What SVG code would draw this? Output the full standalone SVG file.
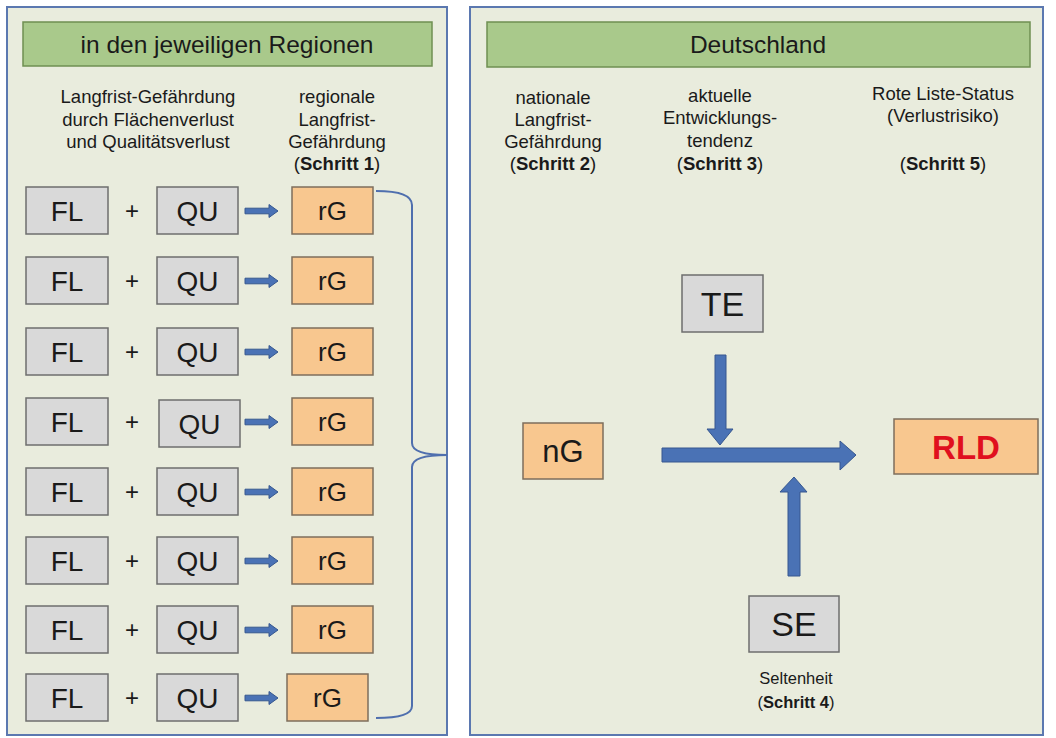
<svg xmlns="http://www.w3.org/2000/svg" width="1056" height="738" viewBox="0 0 1056 738">
<style>
  .panel { fill: #e9ecdd; stroke: #5b78b0; stroke-width: 2; }
  .hdr { fill: #a9c98b; stroke: #6f8f52; stroke-width: 1.5; }
  .gray { fill: #d9d9d9; stroke: #6e6e6e; stroke-width: 1.5; }
  .orange { fill: #f8c78f; stroke: #7e6e5c; stroke-width: 1.5; }
  text { font-family: "Liberation Sans", Arial, sans-serif; fill: #1a1a1a; text-anchor: middle; }
  .h { font-size: 24.5px; }
  .lbl { font-size: 18.5px; }
  .small { font-size: 16.5px; }
  .b { font-weight: bold; }
  .box { font-size: 28px; }
  .arrow { fill: #4a72b5; stroke: #36578f; stroke-width: 1; }
</style>
<defs>
  <g id="smallArrow">
    <path class="arrow" d="M0,-2.8 L24,-2.8 L24,-6.5 L33,0 L24,6.5 L24,2.8 L0,2.8 Z"/>
  </g>
</defs>

<g id="panel-left">
  <rect class="panel" x="7" y="7" width="440" height="728"/>
  <rect class="hdr" x="23" y="22" width="409" height="44"/>
  <text class="h" x="227" y="53">in den jeweiligen Regionen</text>
  <text class="lbl" x="148" y="103">Langfrist-Gefährdung</text>
  <text class="lbl" x="148" y="126">durch Flächenverlust</text>
  <text class="lbl" x="148" y="148">und Qualitätsverlust</text>
  <text class="lbl" x="337" y="103">regionale</text>
  <text class="lbl" x="337" y="126">Langfrist-</text>
  <text class="lbl" x="337" y="148">Gefährdung</text>
  <text class="lbl" x="337" y="170">(<tspan class="b">Schritt 1</tspan>)</text>
</g>

<g id="panel-right">
  <rect class="panel" x="470" y="7" width="573" height="728"/>
  <rect class="hdr" x="487" y="22" width="543" height="45"/>
  <text class="h" x="758" y="53">Deutschland</text>
  <text class="lbl" x="553" y="104">nationale</text>
  <text class="lbl" x="553" y="126">Langfrist-</text>
  <text class="lbl" x="553" y="148">Gefährdung</text>
  <text class="lbl" x="553" y="170">(<tspan class="b">Schritt 2</tspan>)</text>
  <text class="lbl" x="720" y="102">aktuelle</text>
  <text class="lbl" x="720" y="124">Entwicklungs-</text>
  <text class="lbl" x="720" y="147">tendenz</text>
  <text class="lbl" x="720" y="170">(<tspan class="b">Schritt 3</tspan>)</text>
  <text class="lbl" x="943" y="100">Rote Liste-Status</text>
  <text class="lbl" x="943" y="122">(Verlustrisiko)</text>
  <text class="lbl" x="943" y="170">(<tspan class="b">Schritt 5</tspan>)</text>
</g>

<g id="row1">
  <rect class="gray" x="26" y="187" width="82" height="47"/><text class="box" x="67" y="221">FL</text>
  <text class="box" x="132" y="219" style="font-size:24px">+</text>
  <rect class="gray" x="157" y="187" width="81" height="47"/><text class="box" x="197.5" y="221">QU</text>
  <rect class="orange" x="292" y="187" width="81" height="47"/><text class="box" x="332.5" y="220" style="font-size:26px">rG</text>
</g>
<g id="row2">
  <rect class="gray" x="26" y="257" width="82" height="47"/><text class="box" x="67" y="291">FL</text>
  <text class="box" x="132" y="289" style="font-size:24px">+</text>
  <rect class="gray" x="157" y="257" width="81" height="47"/><text class="box" x="197.5" y="291">QU</text>
  <rect class="orange" x="292" y="257" width="81" height="47"/><text class="box" x="332.5" y="290" style="font-size:26px">rG</text>
</g>
<g id="row3">
  <rect class="gray" x="26" y="328" width="82" height="47"/><text class="box" x="67" y="362">FL</text>
  <text class="box" x="132" y="360" style="font-size:24px">+</text>
  <rect class="gray" x="157" y="328" width="81" height="47"/><text class="box" x="197.5" y="362">QU</text>
  <rect class="orange" x="292" y="328" width="81" height="47"/><text class="box" x="332.5" y="361" style="font-size:26px">rG</text>
</g>
<g id="row4">
  <rect class="gray" x="26" y="398" width="82" height="47"/><text class="box" x="67" y="432">FL</text>
  <text class="box" x="132" y="430" style="font-size:24px">+</text>
  <rect class="gray" x="159" y="400" width="81" height="47"/><text class="box" x="199.5" y="434">QU</text>
  <rect class="orange" x="292" y="398" width="81" height="47"/><text class="box" x="332.5" y="431" style="font-size:26px">rG</text>
</g>
<g id="row5">
  <rect class="gray" x="26" y="468" width="82" height="47"/><text class="box" x="67" y="502">FL</text>
  <text class="box" x="132" y="500" style="font-size:24px">+</text>
  <rect class="gray" x="157" y="468" width="81" height="47"/><text class="box" x="197.5" y="502">QU</text>
  <rect class="orange" x="292" y="468" width="81" height="47"/><text class="box" x="332.5" y="501" style="font-size:26px">rG</text>
</g>
<g id="row6">
  <rect class="gray" x="26" y="537" width="82" height="47"/><text class="box" x="67" y="571">FL</text>
  <text class="box" x="132" y="569" style="font-size:24px">+</text>
  <rect class="gray" x="157" y="537" width="81" height="47"/><text class="box" x="197.5" y="571">QU</text>
  <rect class="orange" x="292" y="537" width="81" height="47"/><text class="box" x="332.5" y="570" style="font-size:26px">rG</text>
</g>
<g id="row7">
  <rect class="gray" x="26" y="606" width="82" height="47"/><text class="box" x="67" y="640">FL</text>
  <text class="box" x="132" y="638" style="font-size:24px">+</text>
  <rect class="gray" x="157" y="606" width="81" height="47"/><text class="box" x="197.5" y="640">QU</text>
  <rect class="orange" x="292" y="606" width="81" height="47"/><text class="box" x="332.5" y="639" style="font-size:26px">rG</text>
</g>
<g id="row8">
  <rect class="gray" x="26" y="674" width="82" height="47"/><text class="box" x="67" y="708">FL</text>
  <text class="box" x="132" y="706" style="font-size:24px">+</text>
  <rect class="gray" x="157" y="674" width="81" height="47"/><text class="box" x="197.5" y="708">QU</text>
  <rect class="orange" x="287" y="674" width="81" height="47"/><text class="box" x="327.5" y="707" style="font-size:26px">rG</text>
</g>

<g id="node-TE">
  <rect class="gray" x="682" y="275" width="81" height="57"/>
  <text class="box" x="722.5" y="316" style="font-size:34px">TE</text>
</g>
<g id="node-nG">
  <rect class="orange" x="523" y="423" width="80" height="56"/>
  <text class="box" x="563" y="462" style="font-size:31px">nG</text>
</g>
<g id="node-RLD">
  <rect class="orange" x="894" y="419" width="144" height="55"/>
  <text class="box b" x="966" y="459" style="font-size:33px;fill:#e0101e">RLD</text>
</g>
<g id="node-SE">
  <rect class="gray" x="749" y="596" width="90" height="56"/>
  <text class="box" x="794" y="636" style="font-size:34px">SE</text>
  <text class="small" x="796" y="684">Seltenheit</text>
  <text class="small" x="796" y="708">(<tspan class="b">Schritt 4</tspan>)</text>
</g>

<g id="connectors">
  <use href="#smallArrow" x="245" y="211"/>
  <use href="#smallArrow" x="245" y="281"/>
  <use href="#smallArrow" x="245" y="352"/>
  <use href="#smallArrow" x="245" y="422"/>
  <use href="#smallArrow" x="245" y="492"/>
  <use href="#smallArrow" x="245" y="561"/>
  <use href="#smallArrow" x="245" y="630"/>
  <use href="#smallArrow" x="245" y="698"/>
  <path d="M376,191 Q412,191 412,205 L412,443 Q412,455 447,455 Q412,455 412,467 L412,706 Q412,718 376,718" fill="none" stroke="#4f6fae" stroke-width="2"/>
  <path class="arrow" d="M662,448 L840,448 L840,441 L856,455 L840,470 L840,462 L662,462 Z"/>
  <path class="arrow" d="M715,355 L726,355 L726,429 L733,429 L720,445 L707,429 L715,429 Z"/>
  <path class="arrow" d="M788,576 L800,576 L800,492 L807,492 L794,477 L780,492 L788,492 Z"/>
</g>
</svg>
